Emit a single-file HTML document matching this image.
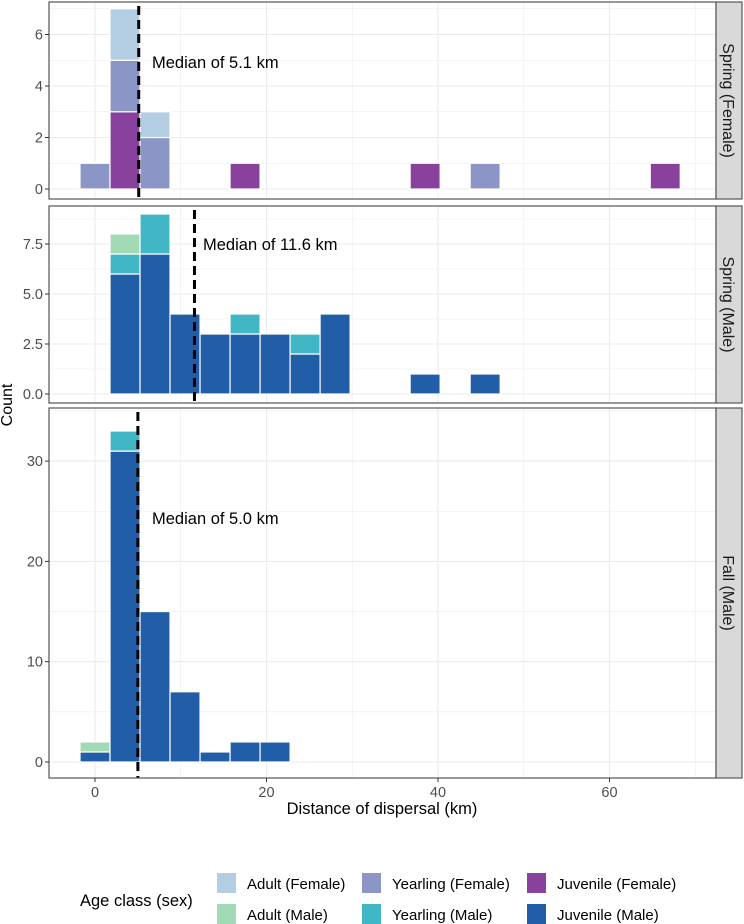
<!DOCTYPE html>
<html><head><meta charset="utf-8"><style>
body{margin:0;background:#fff}
svg{display:block;font-family:"Liberation Sans",sans-serif}
</style></head><body>
<svg id="chart" width="744" height="924" viewBox="0 0 744 924">
<g id="grid"></g>
<g id="bars"></g>
<g id="frames"></g>
<text x="12" y="405" transform="rotate(-90 12 405)" text-anchor="middle" font-size="16" fill="#000">Count</text>
<text x="382" y="814" text-anchor="middle" font-size="16.5" fill="#000">Distance of dispersal (km)</text>
<g id="legend">
<text x="80" y="906" font-size="16.5" fill="#000">Age class (sex)</text>
</g>
</svg>
<script>
const categories = ["Adult (Female)","Yearling (Female)","Juvenile (Female)","Adult (Male)","Yearling (Male)","Juvenile (Male)"];
const colors = ["#b3cde3","#8c96c6","#88419d","#a1dab4","#41b6c4","#225ea8"];
const binCenters = [0,3.5,7,10.5,14,17.5,21,24.5,28,31.5,35,38.5,42,45.5,49,52.5,56,59.5,63,66.5];
// panel 1 Spring (Female): counts per bin
const sfJuvenile = [0,3,0,0,0,1,0,0,0,0,0,1,0,0,0,0,0,0,0,1];
const sfYearling = [1,2,2,0,0,0,0,0,0,0,0,0,0,1,0,0,0,0,0,0];
const sfAdult    = [0,2,1,0,0,0,0,0,0,0,0,0,0,0,0,0,0,0,0,0];
// panel 2 Spring (Male)
const smJuvenile = [0,6,7,4,3,3,3,2,4,0,0,1,0,1,0,0,0,0,0,0];
const smYearling = [0,1,2,0,0,1,0,1,0,0,0,0,0,0,0,0,0,0,0,0];
const smAdult    = [0,1,0,0,0,0,0,0,0,0,0,0,0,0,0,0,0,0,0,0];
// panel 3 Fall (Male)
const fmJuvenile = [1,31,15,7,1,2,2,0,0,0,0,0,0,0,0,0,0,0,0,0];
const fmYearling = [0,2,0,0,0,0,0,0,0,0,0,0,0,0,0,0,0,0,0,0];
const fmAdult    = [1,0,0,0,0,0,0,0,0,0,0,0,0,0,0,0,0,0,0,0];
const medians = [5.1, 11.6, 5.0];
const xTicks = [0,20,40,60];
const yTicks1 = [0,2,4,6];
const yTicks2 = [0,2.5,5,7.5];
const yTicks3 = [0,10,20,30];
const stripLabels = ["Spring (Female)","Spring (Male)","Fall (Male)"];

const NS="http://www.w3.org/2000/svg";
const L=49,R=716,binW=3.5;
const xs=v=>95+v*8.575;
function mk(tag,attrs,parent){const e=document.createElementNS(NS,tag);for(const k in attrs)e.setAttribute(k,attrs[k]);parent.appendChild(e);return e;}
const grid=document.getElementById('grid'),bars=document.getElementById('bars'),frames=document.getElementById('frames');
const panels=[
 {top:2,bot:199,y0:189,ppu:25.75,ticks:yTicks1,fmt:v=>String(v),series:[sfJuvenile,sfYearling,sfAdult],cols:[2,1,0],lab:[152,62]},
 {top:206,bot:403,y0:394,ppu:20,ticks:yTicks2,fmt:v=>v.toFixed(1),series:[smJuvenile,smYearling,smAdult],cols:[5,4,3],lab:[203,244]},
 {top:408,bot:778,y0:762,ppu:10.03,ticks:yTicks3,fmt:v=>String(v),series:[fmJuvenile,fmYearling,fmAdult],cols:[5,4,3],lab:[152,518]}
];
panels.forEach((p,pi)=>{
 const ys=v=>p.y0-v*p.ppu;
 const step=p.ticks[1]-p.ticks[0];
 for(let v=-step/2;ys(v)>p.top;v+=step/2){ if(ys(v)>=p.bot) continue;
  const g=mk('line',{x1:L,x2:R,y1:ys(v),y2:ys(v),stroke:'#ebebeb','stroke-width':(Math.abs(v/step-Math.round(v/step))<1e-6)?1.1:0.6},grid);
  
  
 }
 for(let v=-10;v<=70;v+=10){const x=xs(v); if(x<L||x>R) continue;
  const g=mk('line',{x1:x,x2:x,y1:p.top,y2:p.bot,stroke:'#ebebeb','stroke-width':v%20===0?1.1:0.6},grid);
  
  
 }
 binCenters.forEach((c,bi)=>{
  let acc=0;
  p.series.forEach((s,si)=>{
   const n=s[bi]; if(!n) return;
   const r=mk('rect',{x:xs(c-binW/2),y:ys(acc+n),width:binW*8.575,height:n*p.ppu,fill:colors[p.cols[si]],stroke:'#fff','stroke-width':1.2},bars);
   
   
   acc+=n;
  });
 });
 const m=mk('line',{x1:xs(medians[pi]),x2:xs(medians[pi]),y1:p.top+4,y2:p.bot,stroke:'#000','stroke-width':3,'stroke-dasharray':'9,5'},bars);
 
 
 const t=mk('text',{x:p.lab[0],y:p.lab[1]+6,'font-size':16.5,fill:'#000'},bars);
 t.textContent='Median of '+medians[pi].toFixed(1)+' km';
 
 
 const f=mk('rect',{x:L,y:p.top,width:R-L,height:p.bot-p.top,fill:'none',stroke:'#555','stroke-width':1.2},frames);
 
 
 p.ticks.forEach(v=>{
  const tk=mk('line',{x1:L-4,x2:L,y1:ys(v),y2:ys(v),stroke:'#333'},frames);
  
  
  const tl=mk('text',{x:L-6,y:ys(v)+5,'text-anchor':'end','font-size':14.5,fill:'#4d4d4d'},frames);
  tl.textContent=p.fmt(v);
  
  
 });
 const s=mk('rect',{x:R,y:p.top,width:26,height:p.bot-p.top,fill:'#d9d9d9',stroke:'#555','stroke-width':1.2},frames);
 
 
 const cy=(p.top+p.bot)/2;
 const st=mk('text',{x:R+7,y:cy,transform:`rotate(90 ${R+7} ${cy})`,'text-anchor':'middle','font-size':16,fill:'#1a1a1a'},frames);
 st.textContent=stripLabels[pi];
 
 
});
xTicks.forEach(v=>{
 const tk=mk('line',{x1:xs(v),x2:xs(v),y1:778,y2:782,stroke:'#333'},frames);
 
 
 const tl=mk('text',{x:xs(v),y:797,'text-anchor':'middle','font-size':14.5,fill:'#4d4d4d'},frames);
 tl.textContent=v;
 
 
});
const lg=document.getElementById('legend');
const colX=[217,362,527],rowY=[873,904];
categories.forEach((c,i)=>{
 const col=i%3,row=Math.floor(i/3);
 const r=mk('rect',{x:colX[col],y:rowY[row],width:19,height:20,fill:colors[i]},lg);
 
 
 const t=mk('text',{x:colX[col]+30,y:rowY[row]+16,'font-size':15,fill:'#000'},lg);
 t.textContent=c;
 
 
});
</script>
</body></html>
